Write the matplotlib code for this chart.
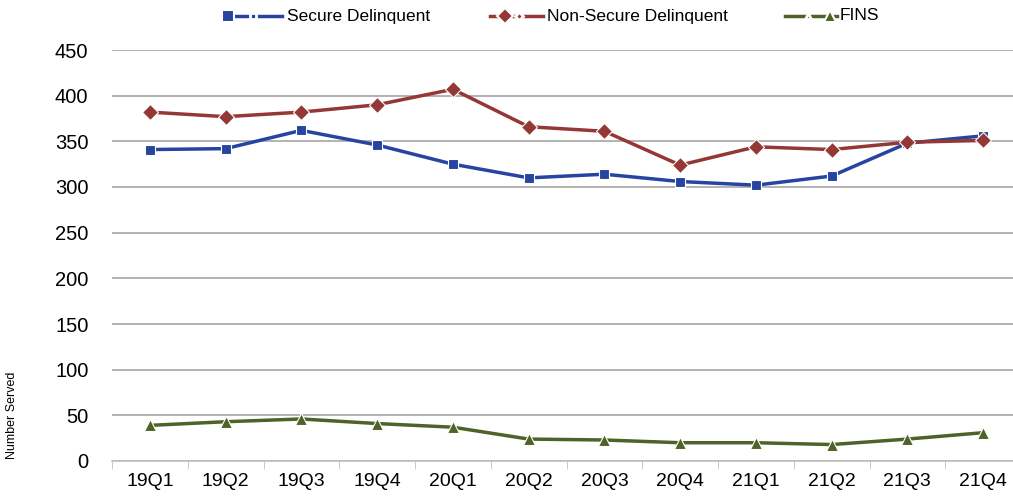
import numpy as np
import matplotlib.pyplot as plt
from matplotlib.lines import Line2D

quarters = ["19Q1", "19Q2", "19Q3", "19Q4", "20Q1", "20Q2", "20Q3", "20Q4",
            "21Q1", "21Q2", "21Q3", "21Q4"]
secure = [341, 342, 362, 346, 325, 310, 314, 306, 302, 312, 348, 356]
non_secure = [382, 377, 382, 390, 407, 366, 361, 324, 344, 341, 349, 351]
fins = [39, 43, 46, 41, 37, 24, 23, 20, 20, 18, 24, 31]
labels = ["Secure Delinquent", "Non-Secure Delinquent", "FINS"]
colors = ["#2644A0", "#953735", "#4F6228"]
markers = ["s", "D", "^"]

plt.rcParams['font.family'] = ['Liberation Sans', 'DejaVu Sans']

W, H = 1013, 499
fig = plt.figure(figsize=(W / 100, H / 100), dpi=100)
ax = fig.add_axes([112 / W, 1 - 461 / H, (1021 - 112) / W, (461 - 50) / H])

x = np.arange(len(quarters))
sizes = [7, 8, 8]
for vals, lab, c, m, ms in zip([secure, non_secure, fins], labels, colors, markers, sizes):
    ax.plot(x, vals, color=c, lw=2.5, marker=m, ms=ms, mec="white", mew=0.8,
            label=lab, zorder=3)

ax.set_xlim(-0.5, len(quarters) - 0.5)
ax.set_ylim(0, 450)
ax.set_yticks(range(0, 451, 50))
ax.yaxis.grid(True, color="#a6a6a6", lw=1.2)
ax.set_axisbelow(True)
for s in ["top", "right", "left"]:
    ax.spines[s].set_visible(False)
ax.spines["bottom"].set_color("#bfbfbf")
ax.spines["bottom"].set_linewidth(1.2)

ax.set_xticks(x)
ax.set_xticklabels(quarters, fontsize=14)
ax.tick_params(axis="x", length=0, pad=9)
ax.set_xticks(np.arange(-0.5, len(quarters), 1), minor=True)
ax.tick_params(axis="x", which="minor", length=6, color="#bfbfbf", direction="out")
ax.tick_params(axis="y", length=0, labelsize=14.5, pad=17)

fig.text(12 / W, 1 - 415 / H, "Number Served", rotation=90, fontsize=9,
         ha="center", va="center")

# legend drawn by hand: Excel-style handles (line with big + small marker)
yl = 1 - 16 / H
leg = [(224, 282, 287), (490, 543, 547), (785, 837, 840)]
big_pos = [0.07, 0.28, 0.86]
small_pos = [0.5, 0.55, 0.45]
for (x0, x1, xt), lab, c, m, bp, sp in zip(leg, labels, colors, markers, big_pos, small_pos):
    fig.add_artist(Line2D([x0 / W, x1 / W], [yl, yl], color=c, lw=2.5))
    xb = (x0 + bp * (x1 - x0)) / W
    xs = (x0 + sp * (x1 - x0)) / W
    fig.add_artist(Line2D([xs], [yl], color=c, marker=m, ms=4, mec="white", mew=2))
    fig.add_artist(Line2D([xb], [yl], color=c, marker=m, ms=8, mec="white", mew=1.5))
    fig.text(xt / W, yl, lab, fontsize=12.5, ha="left", va="center")

fig.savefig("out.png", dpi=100)
